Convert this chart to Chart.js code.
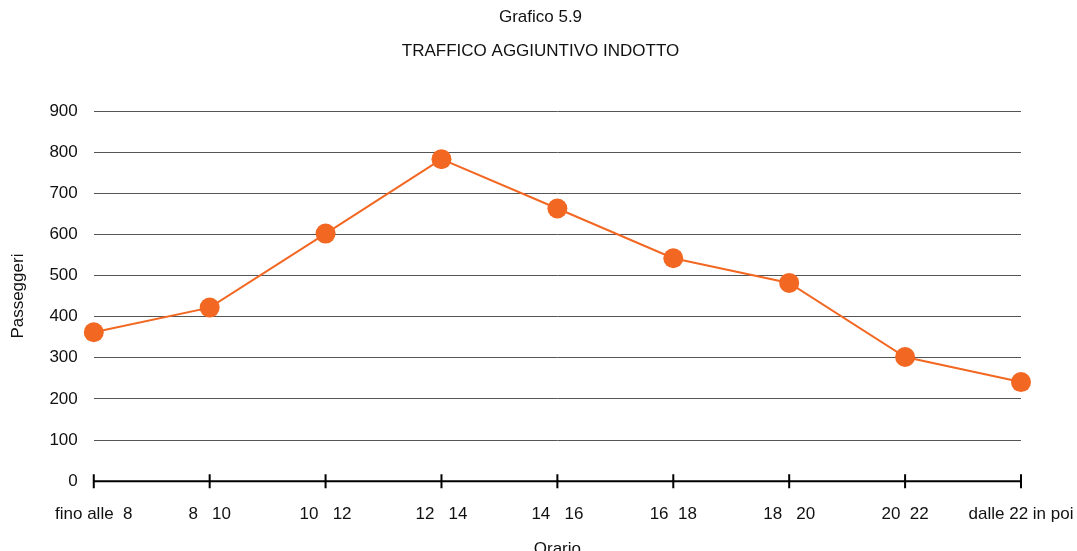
<!DOCTYPE html>
<html>
<head>
<meta charset="utf-8">
<script src="https://cdn.jsdelivr.net/npm/chart.js@4/dist/chart.umd.min.js"></script>
<style>
    html, body { margin: 0; padding: 0; background: #fff; }
    #wrap { width: 1077px; height: 551px; }
</style>
</head>
<body>
<div id="wrap"><canvas id="chart"></canvas></div>
<script>
// data
const orari = ['fino alle  8', '8   10', '10   12', '12   14', '14   16', '16  18', '18   20', '20  22', 'dalle 22 in poi'];
const passeggeri = [362, 422, 602, 783, 663, 542, 482, 302, 241];
const yTicks = [0, 100, 200, 300, 400, 500, 600, 700, 800, 900];

const orange = '#F26822';
const font = { family: "'Liberation Sans', Arial, sans-serif", size: 17 };

Chart.defaults.font.family = font.family;
Chart.defaults.color = '#111';

// tick marks crossing the x axis
const axisTicks = {
    id: 'axisTicks',
    afterDatasetsDraw(chart) {
        const x = chart.scales.x, y = chart.scales.y;
        const y0 = y.getPixelForValue(0);
        const ctx = chart.ctx;
        ctx.save();
        ctx.strokeStyle = '#000';
        ctx.lineWidth = 2;
        ctx.beginPath();
        ctx.moveTo(x.left, y0);
        ctx.lineTo(x.right, y0);
        orari.forEach((_, i) => {
            const px = x.getPixelForValue(i);
            ctx.moveTo(px, y0 - 7);
            ctx.lineTo(px, y0 + 7);
        });
        ctx.stroke();
        ctx.restore();
    }
};

new Chart(document.getElementById('chart'), {
    type: 'line',
    data: {
        labels: orari,
        datasets: [{
            data: passeggeri,
            borderColor: orange,
            backgroundColor: orange,
            borderWidth: 2,
            pointRadius: 10,
            pointHoverRadius: 10,
            pointBorderWidth: 0,
            tension: 0,
        }]
    },
    options: {
        responsive: true,
        maintainAspectRatio: false,
        animation: false,
        layout: { padding: { left: 4, right: 0, top: 0, bottom: -9 } },
        plugins: {
            legend: { display: false },
            tooltip: { enabled: false },
            title: {
                display: true,
                text: ['Grafico 5.9', 'TRAFFICO AGGIUNTIVO INDOTTO'],
                font: { ...font, weight: 'normal', lineHeight: 2 },
                padding: { top: 0, bottom: 43 },
                color: '#111'
            }
        },
        scales: {
            x: {
                offset: false,
                grid: { display: false },
                border: { display: false },
                afterFit: axis => { axis.paddingRight = 56; },
                ticks: { font: font, padding: 15, maxRotation: 0, autoSkip: false, color: '#111' },
                title: { display: true, text: 'Orario', font: font, padding: { top: 0, bottom: 0 }, color: '#111' }
            },
            y: {
                min: 0,
                max: 900,
                afterBuildTicks: axis => { axis.ticks = yTicks.map(v => ({ value: v })); },
                grid: { color: '#555', lineWidth: 1, drawTicks: false },
                border: { display: false },
                ticks: { font: font, padding: 16, color: '#111' },
                title: { display: true, text: 'Passeggeri', font: font, padding: { bottom: 5 }, color: '#111' }
            }
        }
    },
    plugins: [axisTicks]
});
</script>
</body>
</html>
